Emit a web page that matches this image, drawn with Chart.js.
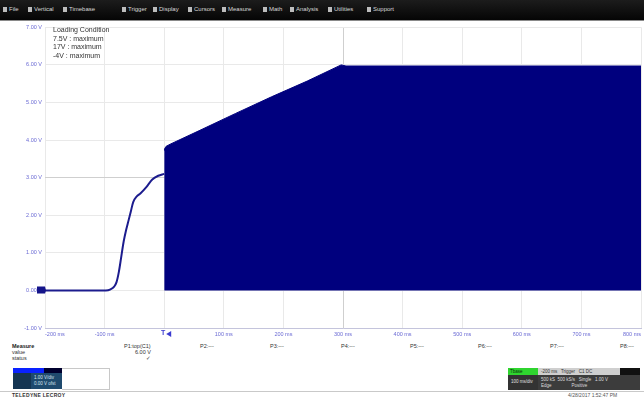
<!DOCTYPE html>
<html>
<head>
<meta charset="utf-8">
<script src="https://cdn.jsdelivr.net/npm/chart.js@4/dist/chart.umd.min.js"></script>
<style>
  html, body { margin: 0; padding: 0; background: #fff; }
  body { width: 644px; height: 398px; position: relative; overflow: hidden; font-family: "Liberation Sans", "DejaVu Sans", sans-serif; }
  .abs { position: absolute; white-space: nowrap; }
  #menubar { left: 0; top: 0; width: 644px; height: 20px; background: linear-gradient(#1c1c1c, #050505); border-bottom: 1px solid #8a8a8a; }
  #menubar span { position: absolute; top: 6px; font-size: 6px; color: #d8d8d8; }
  #menubar i { display: inline-block; width: 4px; height: 5px; background: #bdbdbd; margin-right: 2px; vertical-align: -1px; }
  #plotwrap { left: 0; top: 21px; width: 644px; height: 320px; }
  #note { left: 53px; top: 26px; font-size: 7px; line-height: 8.5px; color: #333; }
  .mt { font-size: 5.5px; color: #333; }
  .mh { font-weight: bold; color: #222; }
  #desc { left: 13px; top: 368px; width: 49px; height: 21px; }
  #footline { left: 0; top: 391px; width: 644px; height: 1px; background: #c9c9c9; }
</style>
</head>
<body>
<div id="menubar" class="abs">
  <span style="left:3px"><i></i>File</span>
  <span style="left:28px"><i></i>Vertical</span>
  <span style="left:63px"><i></i>Timebase</span>
  <span style="left:122px"><i></i>Trigger</span>
  <span style="left:153px"><i></i>Display</span>
  <span style="left:188px"><i></i>Cursors</span>
  <span style="left:222px"><i></i>Measure</span>
  <span style="left:263px"><i></i>Math</span>
  <span style="left:290px"><i></i>Analysis</span>
  <span style="left:328px"><i></i>Utilities</span>
  <span style="left:367px"><i></i>Support</span>
</div>

<div id="plotwrap" class="abs"><canvas id="scope"></canvas></div>

<div id="note" class="abs">Loading Condition<br>7.5V : maximum<br>17V : maximum<br>-4V : maximum</div>

<!-- measurement table -->
<div class="abs mt mh" style="left:12px;top:343px">Measure</div>
<div class="abs mt" style="left:12px;top:349px">value</div>
<div class="abs mt" style="left:12px;top:355px">status</div>
<div class="abs mt" style="left:124px;top:343px">P1:top(C1)</div>
<div class="abs mt" style="left:135px;top:349px">6.00 V</div>
<div class="abs mt" style="left:146px;top:355px">&#10003;</div>
<div class="abs mt" style="left:200px;top:343px">P2:---</div>
<div class="abs mt" style="left:270px;top:343px">P3:---</div>
<div class="abs mt" style="left:341px;top:343px">P4:---</div>
<div class="abs mt" style="left:410px;top:343px">P5:---</div>
<div class="abs mt" style="left:478px;top:343px">P6:---</div>
<div class="abs mt" style="left:550px;top:343px">P7:---</div>
<div class="abs mt" style="left:620px;top:343px">P8:---</div>

<!-- channel descriptor -->
<div id="desc" class="abs">
  <div class="abs" style="left:0;top:0;width:31px;height:5px;background:#0a22ff"></div>
  <div class="abs" style="left:31px;top:0;width:18px;height:5px;background:#00002e"></div>
  <div class="abs" style="left:0;top:5px;width:49px;height:16px;background:#1f4a6e"></div>
  <div class="abs" style="left:0;top:5px;width:18px;height:16px;background:#153552"></div>
  <div class="abs" style="left:21px;top:7px;font-size:4.5px;color:#d6e4f0">1.00 V/div</div>
  <div class="abs" style="left:21px;top:13px;font-size:4.5px;color:#d6e4f0">0.00 V ofst</div>
</div>
<div class="abs" style="left:62px;top:368px;width:47px;height:20px;border:1px solid #c8c8c8;border-left:none;background:#fff"></div>

<!-- timebase / trigger descriptors -->
<div class="abs" style="left:508px;top:368px;width:30px;height:7px;background:#2fd42f"></div>
<div class="abs" style="left:510px;top:369px;font-size:4.5px;color:#083008">Tbase</div>
<div class="abs" style="left:508px;top:375px;width:30px;height:15px;background:#333"></div>
<div class="abs" style="left:511px;top:379px;font-size:4.5px;color:#e0e0e0">100 ms/div</div>
<div class="abs" style="left:538px;top:368px;width:82px;height:7px;background:#cfcfcf"></div>
<div class="abs" style="left:541px;top:369px;font-size:4.5px;color:#333">-200 ms&nbsp;&nbsp;&nbsp;Trigger&nbsp;&nbsp;&nbsp;C1 DC</div>
<div class="abs" style="left:620px;top:368px;width:20px;height:7px;background:#111"></div>
<div class="abs" style="left:538px;top:375px;width:102px;height:15px;background:#3c3c3c"></div>
<div class="abs" style="left:541px;top:377px;font-size:4.5px;color:#ddd">500 kS&nbsp;&nbsp;500 kS/s&nbsp;&nbsp;&nbsp;Single&nbsp;&nbsp;&nbsp;1.00 V</div>
<div class="abs" style="left:541px;top:383px;font-size:4.5px;color:#ddd">Edge&nbsp;&nbsp;&nbsp;&nbsp;&nbsp;&nbsp;&nbsp;&nbsp;&nbsp;&nbsp;&nbsp;&nbsp;&nbsp;&nbsp;&nbsp;&nbsp;Positive</div>

<div id="footline" class="abs"></div>
<div class="abs" style="left:12px;top:392px;font-size:5px;font-weight:bold;color:#333;letter-spacing:0.3px">TELEDYNE LECROY</div>
<div class="abs" style="left:568px;top:392px;font-size:5px;color:#555">4/28/2017 1:52:47 PM</div>

<script>
// Axis ranges and labels (time in ms, amplitude in V at 1 V/div)
const timeTicks = [-200, -100, 0, 100, 200, 300, 400, 500, 600, 700, 800];
const timeLabels = ['-200 ms', '-100 ms', '', '100 ms', '200 ms', '300 ms', '400 ms', '500 ms', '600 ms', '700 ms', '800 ms'];
const voltTicks = [-1, 0, 1, 2, 3, 4, 5, 6, 7];
const voltLabels = ['-1.00 V', '0.00 V', '1.00 V', '2.00 V', '3.00 V', '4.00 V', '5.00 V', '6.00 V', '7.00 V'];

// Soft-start ramp of channel 1 before the trigger
const rampTimes = [-200, -98, -90, -84, -80, -76, -72, -68, -64, -60, -56, -52, -46, -40, -30, -20, -10, 0];
const rampVolts = [0, 0, 0.03, 0.1, 0.22, 0.5, 0.9, 1.3, 1.6, 1.85, 2.1, 2.35, 2.5, 2.58, 2.75, 2.95, 3.05, 3.1];

// Upper envelope of the switching waveform after the trigger (lower edge sits at 0 V)
const burstTimes = [0, 0.5, 3, 10, 60, 120, 180, 240, 297, 305, 400, 500, 600, 700, 800];
const burstVolts = [3.72, 3.76, 3.83, 3.89, 4.26, 4.71, 5.15, 5.57, 6.0, 5.97, 5.97, 5.97, 5.97, 5.97, 5.97];

const pts = (xs, ys) => xs.map((x, i) => ({ x, y: ys[i] }));

const traceColor = '#00007e';
const labelColor = '#6a6ad4';

// Ground reference marker and trigger marker
const markers = {
  id: 'markers',
  afterDraw(chart) {
    const { ctx, chartArea, scales } = chart;
    const y0 = scales.y.getPixelForValue(0);
    ctx.save();
    ctx.fillStyle = '#14148a';
    ctx.beginPath();
    ctx.moveTo(chartArea.left - 8, y0 - 4);
    ctx.lineTo(chartArea.left, y0 - 4);
    ctx.lineTo(chartArea.left + 1, y0);
    ctx.lineTo(chartArea.left, y0 + 3);
    ctx.lineTo(chartArea.left - 8, y0 + 3);
    ctx.closePath();
    ctx.fill();
    const xt = scales.x.getPixelForValue(0);
    const yb = chartArea.bottom + 2;
    ctx.fillStyle = '#3a3ad0';
    ctx.font = 'bold 7px "Liberation Sans", sans-serif';
    ctx.textBaseline = 'top';
    ctx.textAlign = 'center';
    ctx.fillText('T', xt - 1, yb);
    ctx.beginPath();
    ctx.moveTo(xt + 2, yb + 4);
    ctx.lineTo(xt + 7, yb + 1);
    ctx.lineTo(xt + 7, yb + 7);
    ctx.closePath();
    ctx.fill();
    ctx.restore();
  }
};

new Chart(document.getElementById('scope'), {
  type: 'line',
  data: {
    datasets: [
      {
        data: pts(burstTimes, burstVolts),
        borderColor: traceColor,
        backgroundColor: traceColor,
        borderWidth: 1,
        pointRadius: 0,
        fill: 'origin',
        tension: 0
      },
      {
        data: pts(rampTimes, rampVolts),
        borderColor: '#1c1c8e',
        borderWidth: 2,
        pointRadius: 0,
        fill: false,
        cubicInterpolationMode: 'monotone'
      }
    ]
  },
  options: {
    responsive: true,
    maintainAspectRatio: false,
    animation: false,
    events: [],
    layout: { padding: { top: 4, right: 3, left: 0, bottom: 0 } },
    plugins: { legend: { display: false }, tooltip: { enabled: false } },
    scales: {
      x: {
        type: 'linear',
        min: timeTicks[0],
        max: timeTicks[timeTicks.length - 1],
        afterBuildTicks: s => { s.ticks = timeTicks.map(v => ({ value: v })); },
        afterFit: s => { s.height = 13; },
        ticks: {
          align: 'inner',
          maxRotation: 0,
          autoSkip: false,
          padding: 3,
          color: labelColor,
          font: { size: 5.5, family: '"Liberation Sans", sans-serif' },
          callback: v => timeLabels[timeTicks.indexOf(v)]
        },
        grid: {
          drawTicks: false,
          color: ctx => ctx.tick && ctx.tick.value === 300 ? '#cfcfcf' : '#e9e9e9',
          lineWidth: 1
        },
        border: { color: '#c4c4dc' }
      },
      y: {
        min: voltTicks[0],
        max: voltTicks[voltTicks.length - 1],
        afterBuildTicks: s => { s.ticks = voltTicks.map(v => ({ value: v })); },
        afterFit: s => { s.width = 45; },
        ticks: {
          padding: 3,
          autoSkip: false,
          color: labelColor,
          font: { size: 5.5, family: '"Liberation Sans", sans-serif' },
          callback: v => voltLabels[voltTicks.indexOf(v)]
        },
        grid: {
          drawTicks: false,
          color: ctx => ctx.tick && ctx.tick.value === 3 ? '#cfcfcf' : '#e9e9e9',
          lineWidth: 1
        },
        border: { display: false }
      }
    }
  },
  plugins: [markers]
});
</script>
</body>
</html>
